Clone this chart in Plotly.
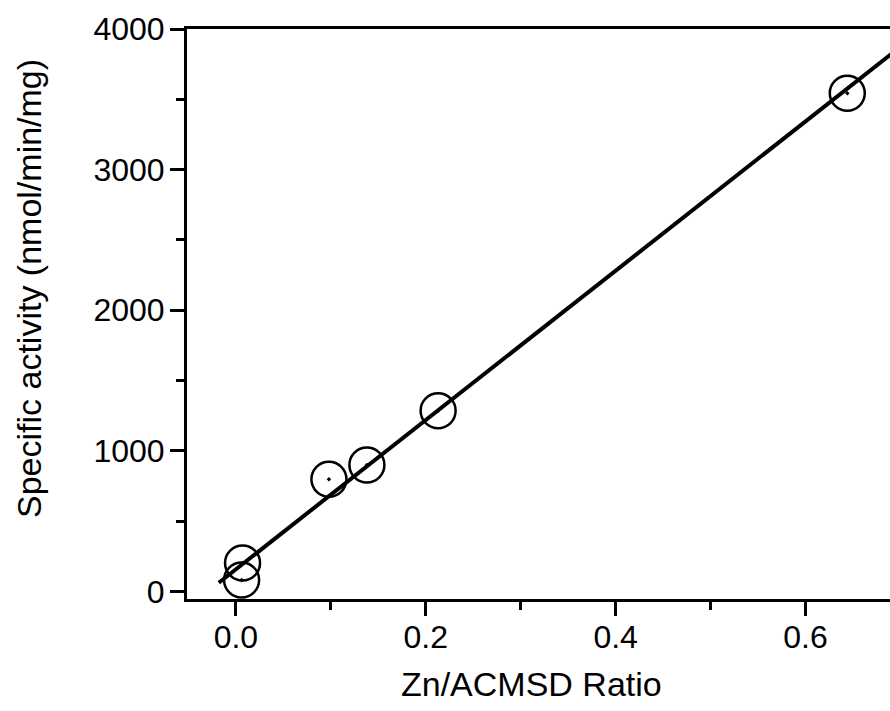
import plotly.graph_objects as go

# Data
zn_ratio = [0.006, 0.007, 0.098, 0.138, 0.213, 0.644]
activity = [82, 203, 798, 900, 1286, 3543]

# Linear fit line (slope, intercept) and its x extent
fit_slope = 5308
fit_intercept = 158
fit_x = [-0.018, 0.75]
fit_y = [fit_intercept + fit_slope * x for x in fit_x]

x_ticks = [0.0, 0.2, 0.4, 0.6]
x_tick_labels = ["0.0", "0.2", "0.4", "0.6"]
y_ticks = [0, 1000, 2000, 3000, 4000]
y_tick_labels = ["0", "1000", "2000", "3000", "4000"]

x_title = "Zn/ACMSD Ratio"
y_title = "Specific activity (nmol/min/mg)"

FONT = "Liberation Sans, Arial, sans-serif"

fig = go.Figure()
fig.add_trace(go.Scatter(
    x=fit_x, y=fit_y, mode="lines",
    line=dict(color="black", width=4),
    showlegend=False, hoverinfo="skip",
))
fig.add_trace(go.Scatter(
    x=zn_ratio, y=activity, mode="markers",
    marker=dict(symbol="circle-open-dot", size=35, color="black",
                line=dict(color="black", width=2.5)),
    showlegend=False,
))

W, H = 890, 711
L, R, T, B = 187, 0, 29, 112
pw, ph = W - L - R, H - T - B

fig.update_layout(
    width=W, height=H,
    margin=dict(l=L, r=R, t=T, b=B),
    paper_bgcolor="white", plot_bgcolor="white",
    font=dict(family=FONT, color="black", size=32),
    xaxis=dict(
        range=[-0.0515, 0.689],
        tickvals=x_ticks, ticktext=x_tick_labels,
        ticks="outside", ticklen=14, tickwidth=3, tickcolor="black",
        minor=dict(dtick=0.1, tick0=0.1, ticks="outside", ticklen=8,
                   tickwidth=3, tickcolor="black"),
        showline=True, linecolor="black", linewidth=3, mirror=True,
        showgrid=False, zeroline=False,
        tickfont=dict(size=32),
        ticklabelstandoff=-6,
    ),
    yaxis=dict(
        range=[-53, 4000],
        tickvals=y_ticks, ticktext=y_tick_labels,
        ticks="outside", ticklen=14, tickwidth=3, tickcolor="black",
        minor=dict(tickvals=[500, 1500, 2500, 3500], ticks="outside", ticklen=8,
                   tickwidth=3, tickcolor="black"),
        showline=True, linecolor="black", linewidth=3,
        showgrid=False, zeroline=False,
        tickfont=dict(size=32),
        ticklabelstandoff=-1,
    ),
    annotations=[
        dict(text=x_title, xref="paper", yref="paper",
             x=(531 - L) / pw, y=(H - B - 684) / ph,
             xanchor="center", yanchor="middle", showarrow=False,
             font=dict(size=34)),
        dict(text=y_title, xref="paper", yref="paper",
             x=(29 - L) / pw, y=(H - B - 289) / ph, textangle=-90,
             xanchor="center", yanchor="middle", showarrow=False,
             font=dict(size=34)),
    ],
)

fig.write_html(
    "out.html",
    config={"displayModeBar": False},
    post_script="document.body.style.margin='0';document.body.style.overflow='hidden';",
)
